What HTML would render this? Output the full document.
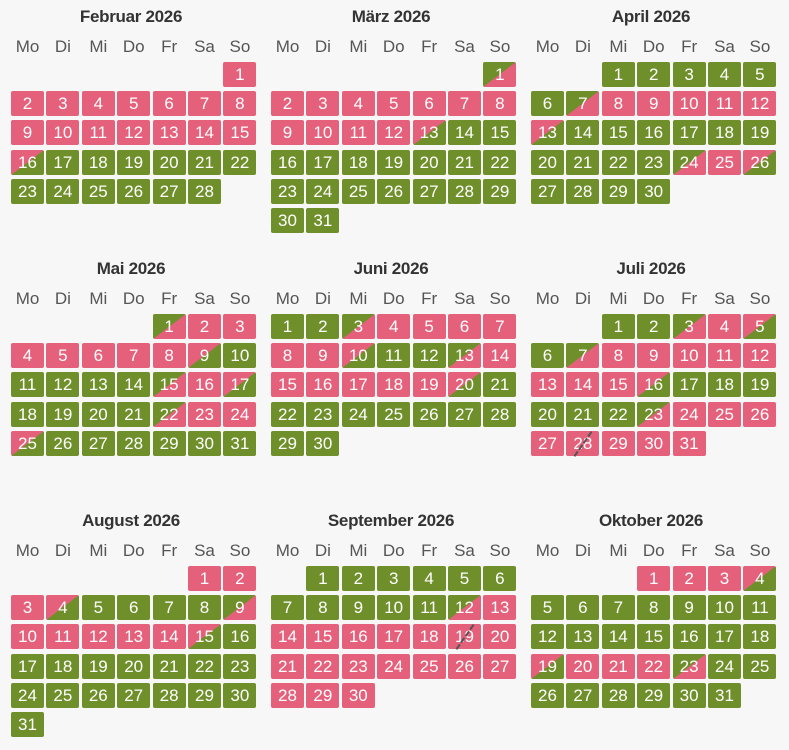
<!DOCTYPE html>
<html><head><meta charset="utf-8"><style>
body{margin:0;width:789px;height:750px;background:#f7f7f7;font-family:"Liberation Sans",sans-serif;position:relative;overflow:hidden}
.t{position:absolute;width:250px;text-align:center;font-size:17px;color:#333;font-weight:bold;letter-spacing:-0.3px}
.h{position:absolute;width:34px;text-align:center;font-size:17px;color:#555}
.c{position:absolute;width:33px;height:25px;border-radius:2px;color:#fff;font-size:17px;line-height:25px;text-align:center;overflow:visible}
.p{background:#e5607b}.g{background:#6f8f2b}
.a{background:linear-gradient(to bottom right,#e5607b 50%,#6f8f2b 50%)}
.b{background:linear-gradient(to bottom right,#6f8f2b 50%,#e5607b 50%)}
.s{position:absolute;left:2px;top:12px;width:30px;height:0;border-top:2px dashed #555;transform:rotate(-55deg)}
.n{position:relative}
</style></head><body>
<script>
var months=[
["Februar 2026",6,"15p1a12g"],
["März 2026",6,"1b11p1a18g"],
["April 2026",2,"6g1b5p1a10g1b1p1a4g"],
["Mai 2026",4,"1b7p1a1g4g1b1p1a4g1b2p1a6g"],
["Juni 2026",0,"2g1b6p1a2g1b6p1a10g"],
["Juli 2026",2,"2g1b1p1a1g1b8p1a6g1b8p"],
["August 2026",5,"3p1a4g1b5p1a1g15g"],
["September 2026",1,"11g1b18p"],
["Oktober 2026",3,"3p1a14g1a3p1b8g"]
];
var slash={"5-28":1,"7-19":1};
var wd=["Mo","Di","Mi","Do","Fr","Sa","So"];
var h="";
for(var mi=0;mi<months.length;mi++){
 var m=months[mi];
 var bx=[0,260,520][mi%3], by=[0,252,504][Math.floor(mi/3)];
 var x0=bx+11, y0=by+62;
 h+='<div class="t" style="left:'+(x0-5)+'px;top:'+(by+7)+'px">'+m[0]+'</div>';
 for(var i=0;i<7;i++){h+='<div class="h" style="left:'+(x0+i*35.4-0.5)+'px;top:'+(by+37)+'px">'+wd[i]+'</div>';}
 var codes=[];
 var re=/(\d+)([pgab])/g, mt;
 while((mt=re.exec(m[2]))!==null){for(var k=0;k<parseInt(mt[1],10);k++)codes.push(mt[2]);}
 for(var d=1;d<=codes.length;d++){
  var p=m[1]+d-1, col=p%7, row=Math.floor(p/7);
  var sl=slash[mi+"-"+d]?'<div class="s"></div>':'';
  h+='<div class="c '+codes[d-1]+'" style="left:'+(x0+col*35.4).toFixed(1)+'px;top:'+(y0+row*29.2).toFixed(1)+'px"><span class="n">'+d+'</span>'+sl+'</div>';
 }
}
document.body.innerHTML=h;
</script>
</body></html>
